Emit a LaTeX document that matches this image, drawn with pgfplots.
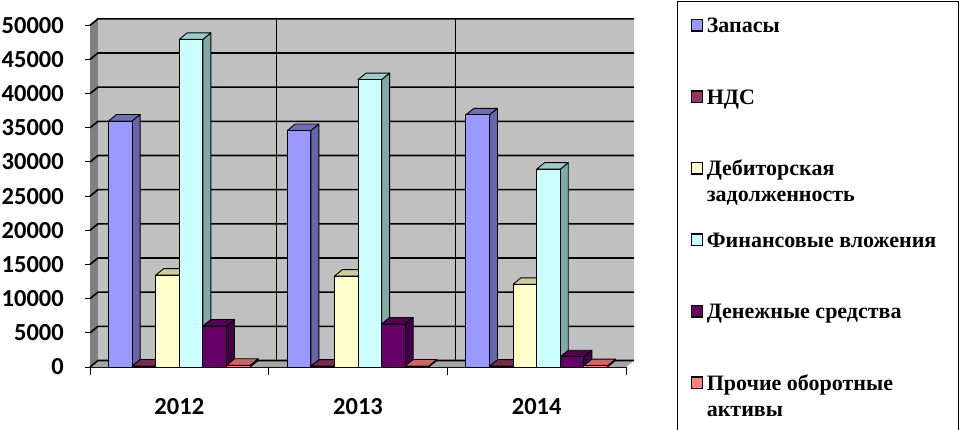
\documentclass[border=0pt]{standalone}
\usepackage{pgfplots}
\pgfplotsset{compat=1.18}
\usepackage{pgfplotstable}
\usepackage{fontspec}
\setmainfont{Liberation Serif}
\newfontfamily\carlito{Carlito}
\newfontfamily\tnr{Liberation Serif}

\definecolor{zapF}{HTML}{9999FF}
\definecolor{zapS}{HTML}{6666AA}
\definecolor{zapT}{HTML}{6E6EB4}
\definecolor{ndsF}{HTML}{993366}
\definecolor{ndsS}{HTML}{6B2447}
\definecolor{ndsT}{HTML}{7A2A50}
\definecolor{debF}{HTML}{FFFFCC}
\definecolor{debS}{HTML}{B3B38F}
\definecolor{debT}{HTML}{CCCC99}
\definecolor{finF}{HTML}{CCFFFF}
\definecolor{finS}{HTML}{80AAAA}
\definecolor{finT}{HTML}{99CCCC}
\definecolor{denF}{HTML}{660066}
\definecolor{denS}{HTML}{440044}
\definecolor{denT}{HTML}{520052}
\definecolor{proF}{HTML}{FF8080}
\definecolor{proS}{HTML}{B35A5A}
\definecolor{proT}{HTML}{CC6666}
\definecolor{wall}{HTML}{C0C0C0}
\definecolor{sidewall}{HTML}{808080}
\definecolor{floorc}{HTML}{A6A6A6}

\pgfplotstableread{
x zap nds deb fin den pro
0 36000 150 13450 47950 6000 250
1 34600 120 13300 42050 6300 150
2 36900 120 12100 28950 1500 200
}\data

\pgfdeclareplotmark{bar3d}{%
  \edef\hh{\fpeval{\pgfplotspointmeta*341.7/50000}}%
  \pgfmathsetmacro\RR{\bshift+11.8}%
  \pgfmathsetmacro\LL{\bshift-11.8}%
  \draw[draw=black,fill=\sidecol,line width=0.9pt,line join=round]
    (\RR pt,-\hh pt) -- ++(8pt,6.5pt) -- ++(0pt,\hh pt) -- (\RR pt,0pt) -- cycle;
  \draw[draw=black,fill=\topcol,line width=0.9pt,line join=round]
    (\LL pt,0pt) -- (\RR pt,0pt) -- ++(8pt,6.5pt) -- ++(-23.6pt,0pt) -- cycle;
}

\pgfplotsset{
  side3d/.style n args={3}{forget plot, scatter, only marks, mark=bar3d,
    point meta=explicit symbolic,
    scatter/@pre marker code/.code={}, scatter/@post marker code/.code={},
    visualization depends on={value #1\as\bshift},
    visualization depends on={value #2\as\sidecol},
    visualization depends on={value #3\as\topcol}},
  front/.style n args={2}{ybar, bar width=23.6pt, bar shift=#1pt, fill=#2,
    draw=black, line width=0.9pt,
    legend image code/.code={\draw[fill=#2,draw=black,line width=1.3pt] (0pt,1.5pt) rectangle (11.5pt,13pt);}},
}
\newcommand{\lgf}{\tnr\bfseries\fontsize{22}{26}\selectfont}
\newcommand{\lgent}[1]{\makebox[239pt][l]{\lgf #1}}
\newcommand{\twoline}[2]{\makebox[239pt][l]{\lgf\begin{tabular}[t]{@{}l@{}}#1\\#2\end{tabular}}}

\begin{document}
\begin{tikzpicture}
\useasboundingbox (0,0) rectangle (965pt,429pt);
\begin{axis}[
  at={(90pt,62pt)}, anchor=south west, scale only axis,
  width=536pt, height=341.7pt,
  xmin=-0.5, xmax=2.5, ymin=0, ymax=50000,
  clip=false, clip marker paths=true,
  axis x line*=bottom, axis y line*=left,
  axis line style={black, line width=1pt},
  xtick={0,1,2}, xticklabels={2012,2013,2014},
  major x tick style={draw=none},
  minor xtick={-0.5,0.5,1.5,2.5},
  minor tick length=8pt,
  ytick={0,5000,10000,15000,20000,25000,30000,35000,40000,45000,50000},
  yticklabels={0,5000,10000,15000,20000,25000,30000,35000,40000,45000,50000},
  scaled y ticks=false,
  major tick length=5pt,
  tick align=outside,
  tick style={black, line width=1pt},
  tick label style={font=\carlito\bfseries\fontsize{24.5}{29}\selectfont},
  yticklabel style={anchor=east, inner sep=0pt, xshift=-21pt},
  xticklabel style={anchor=north, inner sep=0pt, yshift=-26pt},
  legend style={at={(1,1)}, anchor=north west, xshift=51pt, yshift=24pt,
    draw=black, line width=1pt, inner xsep=13pt, inner ysep=0pt,
    row sep=0pt, column sep=3.5pt,
    cells={anchor=base west},
    nodes={inner sep=0pt, text height=30.7pt, text depth=40.8pt}},
]
% walls and floor
\fill[sidewall] (axis cs:-0.5,0) -- (axis cs:-0.5,50000) -- ++(8pt,6.5pt)
  -- ([shift={(8pt,6.5pt)}]axis cs:-0.5,0) -- cycle;
\fill[wall] ([shift={(8pt,6.5pt)}]axis cs:-0.5,0) rectangle ([shift={(8pt,6.5pt)}]axis cs:2.5,50000);
\fill[floorc] (axis cs:-0.5,0) -- (axis cs:2.5,0) -- ++(8pt,6.5pt)
  -- ([shift={(8pt,6.5pt)}]axis cs:-0.5,0) -- cycle;
\pgfplotsinvokeforeach{0,5000,10000,15000,20000,25000,30000,35000,40000,45000,50000}{
  \draw[black, line width=1.6pt] (axis cs:-0.5,#1) -- ++(8pt,6.5pt)
    -- ([shift={(8pt,6.5pt)}]axis cs:2.5,#1);
}
\pgfplotsinvokeforeach{0.5,1.5}{
  \draw[black, line width=1.6pt] ([shift={(8pt,6.5pt)}]axis cs:#1,0)
    -- ([shift={(8pt,6.5pt)}]axis cs:#1,50000);
}

\addplot[side3d={-59}{zapS}{zapT}] table[x=x,y=zap,meta=zap]{\data};
\addplot[front={-59}{zapF}] table[x=x,y=zap]{\data};
\addlegendentry{\lgent{Запасы}}
\addplot[side3d={-35.4}{ndsS}{ndsT}] table[x=x,y=nds,meta=nds]{\data};
\addplot[front={-35.4}{ndsF}] table[x=x,y=nds]{\data};
\addlegendentry{\lgent{НДС}}
\addplot[side3d={-11.8}{debS}{debT}] table[x=x,y=deb,meta=deb]{\data};
\addplot[front={-11.8}{debF}] table[x=x,y=deb]{\data};
\addlegendentry{\twoline{Дебиторская}{задолженность}}
\addplot[side3d={11.8}{finS}{finT}] table[x=x,y=fin,meta=fin]{\data};
\addplot[front={11.8}{finF}] table[x=x,y=fin]{\data};
\addlegendentry{\lgent{Финансовые вложения}}
\addplot[side3d={35.4}{denS}{denT}] table[x=x,y=den,meta=den]{\data};
\addplot[front={35.4}{denF}] table[x=x,y=den]{\data};
\addlegendentry{\lgent{Денежные средства}}
\addplot[side3d={59}{proS}{proT}] table[x=x,y=pro,meta=pro]{\data};
\addplot[front={59}{proF}] table[x=x,y=pro]{\data};
\addlegendentry{\twoline{Прочие оборотные}{активы}}
\end{axis}
\end{tikzpicture}
\end{document}
